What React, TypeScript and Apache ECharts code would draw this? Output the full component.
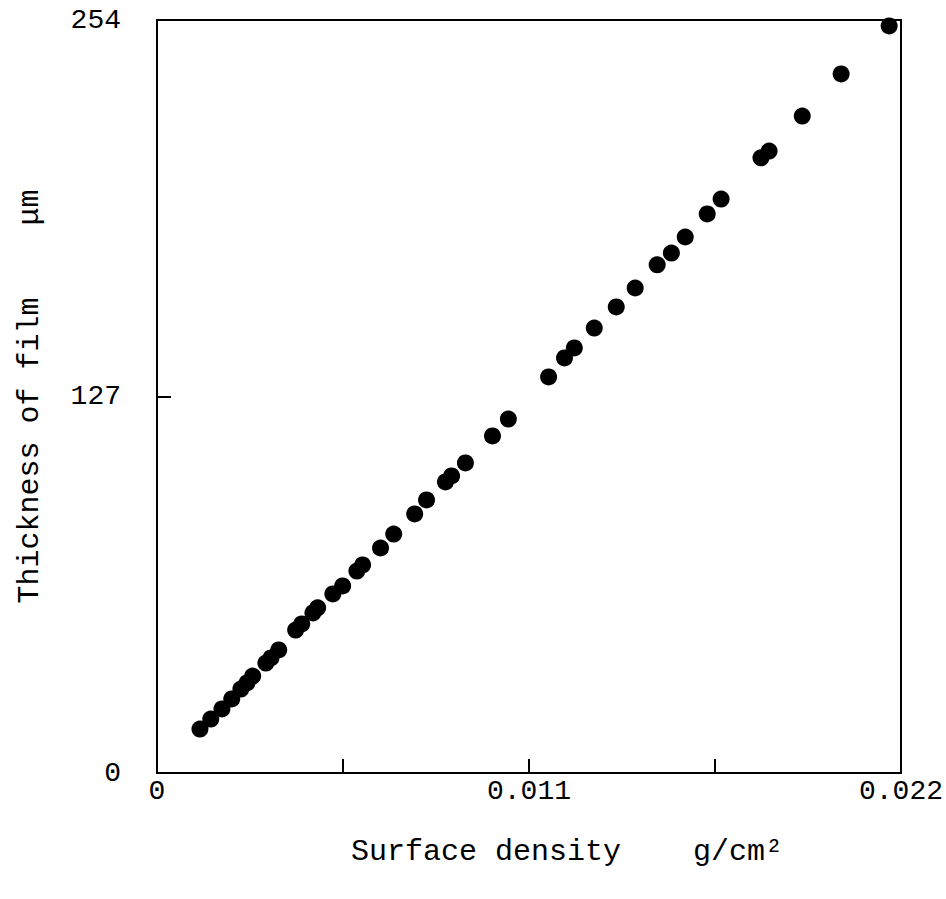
import React, { useEffect, useRef } from "react";
import * as echarts from "echarts";

// Surface density (g/cm^2) vs thickness of film (µm)
const surfaceDensity = [
  0.00127, 0.00159, 0.00192, 0.00221, 0.00248, 0.00266, 0.00283, 0.00322, 0.00337, 0.0036,
  0.0041, 0.00428, 0.00461, 0.00475, 0.0052, 0.00549, 0.00591, 0.00608, 0.00661, 0.007,
  0.00762, 0.00797, 0.00853, 0.00871, 0.00912, 0.00992, 0.01039, 0.01158, 0.01205, 0.01234,
  0.01293, 0.01358, 0.01414, 0.01479, 0.01521, 0.01562, 0.01627, 0.01668, 0.01786, 0.0181,
  0.01908, 0.02023, 0.02165,
];
const thickness = [
  14.8, 18.2, 21.6, 25.0, 28.3, 30.4, 32.7, 37.1, 38.8, 41.5,
  48.2, 50.3, 54.0, 55.7, 60.4, 63.1, 68.1, 70.2, 75.9, 80.6,
  87.4, 92.1, 98.2, 100.2, 104.6, 113.7, 119.4, 133.6, 140.0, 143.4,
  150.1, 157.2, 163.6, 171.4, 175.4, 180.8, 188.6, 193.6, 207.5, 209.8,
  221.6, 235.8, 252.0,
];
const xTickLabels = ["0", "0.011", "0.022"];
const yTickLabels = ["0", "127", "254"];

const FONT = "Liberation Mono";

export default function App() {
  const ref = useRef<HTMLDivElement>(null);
  useEffect(() => {
    if (!ref.current) return;
    const chart = echarts.init(ref.current, null, { renderer: "svg" });
    const data = surfaceDensity.map((x, i) => [x, thickness[i]]);
    chart.setOption({
      animation: false,
      backgroundColor: "#fff",
      grid: {
        left: 157,
        right: 44,
        top: 20,
        bottom: 126,
        show: true,
        borderColor: "#000",
        borderWidth: 2,
      },
      xAxis: {
        type: "value",
        min: 0,
        max: 0.022,
        interval: 0.0055,
        name: "Surface density    g/cm²",
        nameLocation: "middle",
        nameGap: 64,
        nameTextStyle: {
          fontFamily: FONT,
          fontSize: 30,
          color: "#000",
          padding: [0, 0, 0, 76],
        },
        axisLine: { lineStyle: { color: "#000", width: 2 } },
        axisTick: { inside: true, length: 14, lineStyle: { color: "#000", width: 2 } },
        splitLine: { show: false },
        axisLabel: {
          margin: 4,
          fontFamily: FONT,
          fontSize: 28,
          color: "#000",
          formatter: (v: number) => {
            const s = xTickLabels.find((t) => Math.abs(parseFloat(t) - v) < 1e-9);
            return s ?? "";
          },
        },
      },
      yAxis: {
        type: "value",
        min: 0,
        max: 254,
        interval: 127,
        name: "Thickness of film    μm",
        nameLocation: "middle",
        nameGap: 112,
        nameTextStyle: {
          fontFamily: FONT,
          fontSize: 30,
          color: "#000",
        },
        axisLine: { show: true, lineStyle: { color: "#000", width: 2 } },
        axisTick: { show: true, inside: true, length: 14, lineStyle: { color: "#000", width: 2 } },
        splitLine: { show: false },
        axisLabel: {
          margin: 36,
          fontFamily: FONT,
          fontSize: 28,
          color: "#000",
          formatter: (v: number) => {
            const s = yTickLabels.find((t) => Math.abs(parseFloat(t) - v) < 1e-9);
            return s ?? "";
          },
        },
      },
      series: [
        {
          type: "scatter",
          data,
          symbol: "circle",
          symbolSize: 17,
          itemStyle: { color: "#000", opacity: 1 },
        },
      ],
    });
    return () => chart.dispose();
  }, []);
  return (
    <div
      ref={ref}
      style={{ position: "absolute", left: 0, top: 0, width: 946, height: 899 }}
    />
  );
}
